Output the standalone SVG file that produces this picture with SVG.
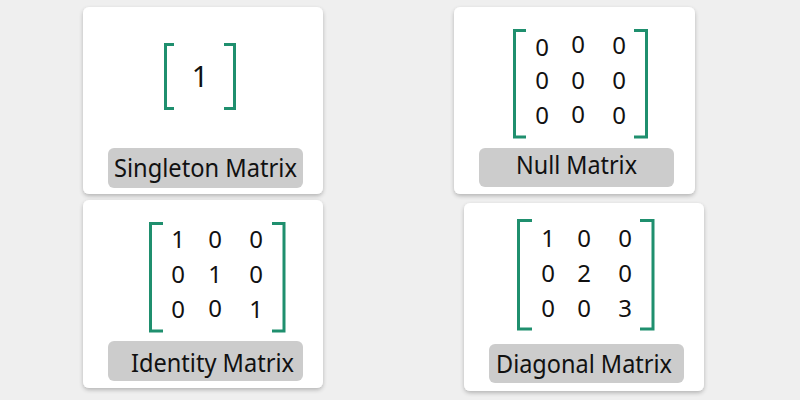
<svg xmlns="http://www.w3.org/2000/svg" width="800" height="400" viewBox="0 0 800 400">
<defs>
<filter id="sh" x="-10%" y="-10%" width="120%" height="125%">
<feGaussianBlur in="SourceAlpha" stdDeviation="2"/>
<feOffset dy="2"/>
<feComponentTransfer><feFuncA type="linear" slope="0.25"/></feComponentTransfer>
<feMerge><feMergeNode/><feMergeNode in="SourceGraphic"/></feMerge>
</filter>
</defs>
<style>
.card{fill:#ffffff;filter:url(#sh)}
.lbl{fill:#cccccc}
.br{fill:none;stroke:#1f8f6e;stroke-width:3}
.t{font-family:"Noto Sans","Liberation Sans",sans-serif;fill:#111111}
.lt{font-size:25px}
.d{font-size:24px;text-anchor:middle}
</style>
<rect width="800" height="400" fill="#efefef"/>
<g id="singleton">
<rect class="card" x="83" y="7" width="240" height="187" rx="6"/>
<path class="br" d="M174,44.5 H165.5 V108.5 H174"/>
<path class="br" d="M224,44.5 H234.5 V108.5 H224"/>
<text class="t" x="200" y="87" font-size="29" text-anchor="middle">1</text>
<rect class="lbl" x="108" y="148" width="195" height="40" rx="6"/>
<text class="t lt" x="114" y="177" textLength="183" lengthAdjust="spacingAndGlyphs">Singleton Matrix</text>
</g>
<g id="null">
<rect class="card" x="454" y="7" width="241" height="187" rx="6"/>
<path class="br" d="M526,30.5 H514.5 V137 H526"/>
<path class="br" d="M634,30.5 H646.5 V137 H634"/>
<text class="t d" x="542" y="56">0</text><text class="t d" x="578" y="53">0</text><text class="t d" x="619" y="54">0</text>
<text class="t d" x="542" y="89">0</text><text class="t d" x="578" y="89">0</text><text class="t d" x="619" y="89">0</text>
<text class="t d" x="542" y="124">0</text><text class="t d" x="578" y="123">0</text><text class="t d" x="619" y="124">0</text>
<rect class="lbl" x="479" y="148" width="195" height="39" rx="6"/>
<text class="t lt" x="516" y="174" textLength="121" lengthAdjust="spacingAndGlyphs">Null Matrix</text>
</g>
<g id="identity">
<rect class="card" x="83" y="200" width="240" height="188" rx="6"/>
<path class="br" d="M163,223.5 H150.5 V331 H163"/>
<path class="br" d="M272,223.5 H284 V331 H272"/>
<text class="t d" x="178" y="248">1</text><text class="t d" x="215" y="248">0</text><text class="t d" x="256" y="248">0</text>
<text class="t d" x="178" y="283">0</text><text class="t d" x="215" y="283">1</text><text class="t d" x="256" y="283">0</text>
<text class="t d" x="178" y="318">0</text><text class="t d" x="215" y="317">0</text><text class="t d" x="256" y="318">1</text>
<rect class="lbl" x="108" y="341" width="195" height="40" rx="6"/>
<text class="t lt" x="131" y="372" textLength="163" lengthAdjust="spacingAndGlyphs">Identity Matrix</text>
</g>
<g id="diagonal">
<rect class="card" x="464" y="203" width="240" height="188" rx="6"/>
<path class="br" d="M532,220.5 H518.5 V329 H532"/>
<path class="br" d="M640,220.5 H653 V329 H640"/>
<text class="t d" x="548" y="247">1</text><text class="t d" x="584" y="247">0</text><text class="t d" x="625" y="247">0</text>
<text class="t d" x="548" y="282">0</text><text class="t d" x="584" y="282">2</text><text class="t d" x="625" y="282">0</text>
<text class="t d" x="548" y="317">0</text><text class="t d" x="584" y="317">0</text><text class="t d" x="625" y="317">3</text>
<rect class="lbl" x="489" y="344" width="195" height="39" rx="6"/>
<text class="t lt" x="496" y="373" textLength="176" lengthAdjust="spacingAndGlyphs">Diagonal Matrix</text>
</g>
<g id="connectors"/>
</svg>
